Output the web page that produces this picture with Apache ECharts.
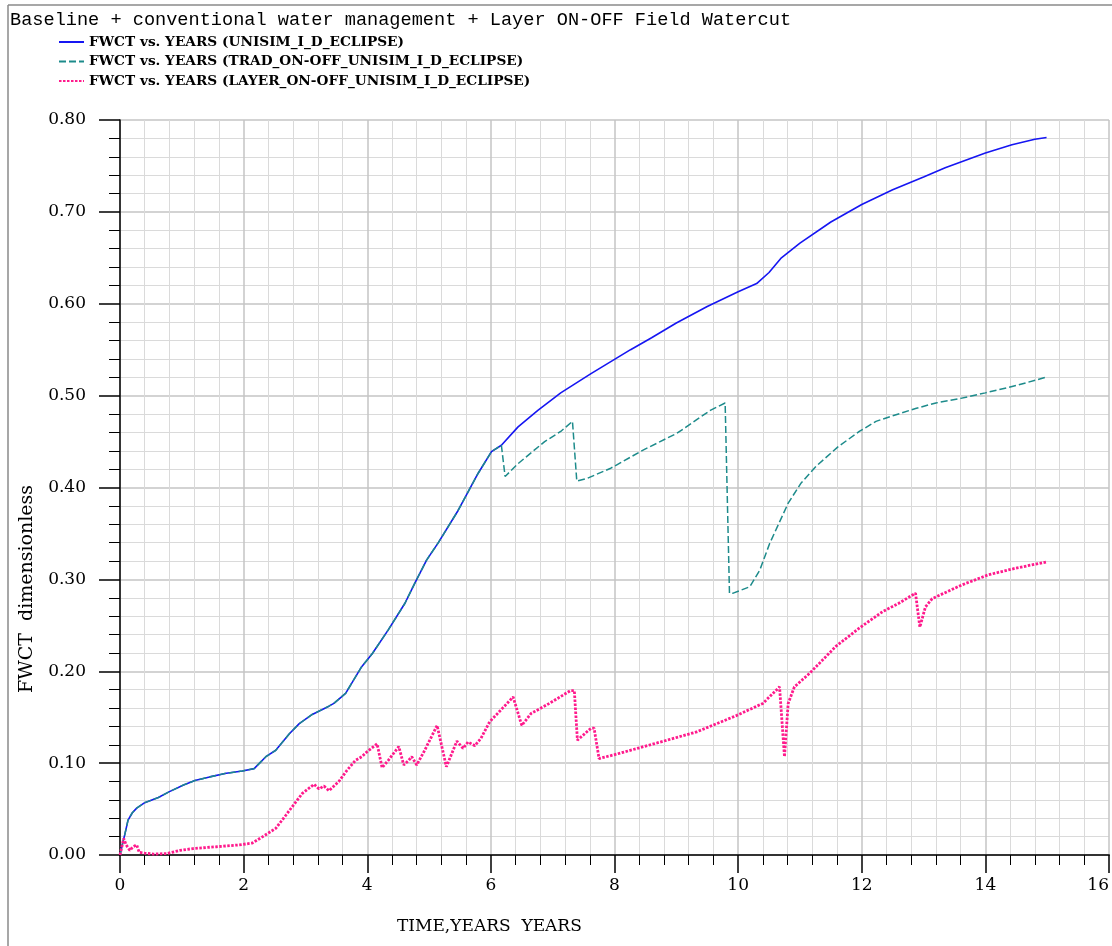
<!DOCTYPE html>
<html>
<head>
<meta charset="utf-8">
<title>Field Watercut</title>
<script src="https://cdn.jsdelivr.net/npm/echarts@6/dist/echarts.min.js"></script>
<style>
  html, body { margin: 0; padding: 0; background: #ffffff; }
  #chart { width: 1112px; height: 946px; }
</style>
</head>
<body>
<div id="chart"></div>
<script>
// Field water cut (FWCT) vs. time in years for three simulation cases

const chartTitle = 'Baseline + conventional water management + Layer ON-OFF Field Watercut';
const seriesNames = [
  'FWCT vs. YEARS (UNISIM_I_D_ECLIPSE)',
  'FWCT vs. YEARS (TRAD_ON-OFF_UNISIM_I_D_ECLIPSE)',
  'FWCT vs. YEARS (LAYER_ON-OFF_UNISIM_I_D_ECLIPSE)'
];
const xAxisTitle = 'TIME,YEARS  YEARS';
const yAxisTitle = 'FWCT  dimensionless';

// Baseline case
const baseYears = [0, 0.04, 0.08, 0.13, 0.2, 0.27, 0.4, 0.62, 0.8, 1.02, 1.21, 1.45, 1.72, 1.98,
  2.17, 2.36, 2.52, 2.74, 2.9, 3.11, 3.38, 3.46, 3.65, 3.91, 4.08, 4.34, 4.61, 4.77, 4.96,
  5.15, 5.47, 5.79, 6.01, 6.17, 6.44, 6.76, 7.13, 7.62, 7.94, 8.26, 8.6, 9.0, 9.5, 10.0,
  10.3, 10.5, 10.7, 11.0, 11.5, 12.0, 12.5, 13.0, 13.35, 14.0, 14.43, 14.8, 14.99];
const baseFwct = [0, 0.012, 0.023, 0.038, 0.046, 0.051, 0.057, 0.0625, 0.069, 0.076, 0.081, 0.085, 0.089, 0.0915,
  0.094, 0.107, 0.114, 0.132, 0.143, 0.153, 0.162, 0.165, 0.176, 0.205, 0.219, 0.245, 0.274, 0.296, 0.321,
  0.340, 0.375, 0.415, 0.439, 0.446, 0.466, 0.484, 0.503, 0.524, 0.537, 0.550, 0.563, 0.579, 0.597, 0.613,
  0.622, 0.634, 0.650, 0.666, 0.689, 0.708, 0.724, 0.738, 0.748, 0.764, 0.773, 0.779, 0.781];

// Conventional on-off management (follows the baseline until the first shut-in)
const tradYears = [0, 0.04, 0.08, 0.13, 0.2, 0.27, 0.4, 0.62, 0.8, 1.02, 1.21, 1.45, 1.72, 1.98,
  2.17, 2.36, 2.52, 2.74, 2.9, 3.11, 3.38, 3.46, 3.65, 3.91, 4.08, 4.34, 4.61, 4.77, 4.96,
  5.15, 5.47, 5.79, 6.01, 6.17, 6.23, 6.44, 6.87, 7.13, 7.32, 7.39, 7.56, 7.94, 8.47, 9.01,
  9.55, 9.79, 9.86, 9.92, 10.19, 10.35, 10.51, 10.81, 11.02, 11.26, 11.61, 11.96, 12.23,
  12.5, 12.87, 13.2, 13.6, 14.0, 14.5, 14.98];
const tradFwct = [0, 0.012, 0.023, 0.038, 0.046, 0.051, 0.057, 0.0625, 0.069, 0.076, 0.081, 0.085, 0.089, 0.0915,
  0.094, 0.107, 0.114, 0.132, 0.143, 0.153, 0.162, 0.165, 0.176, 0.205, 0.219, 0.245, 0.274, 0.296, 0.321,
  0.340, 0.375, 0.415, 0.439, 0.446, 0.412, 0.426, 0.450, 0.461, 0.472, 0.407, 0.410, 0.421, 0.441, 0.459,
  0.484, 0.492, 0.285, 0.285, 0.292, 0.310, 0.339, 0.383, 0.405, 0.423, 0.444, 0.461, 0.472,
  0.478, 0.486, 0.492, 0.497, 0.503, 0.511, 0.520];

// Layer on-off management
const layerYears = [0, 0.04, 0.06, 0.10, 0.16, 0.21, 0.27, 0.31, 0.40, 0.54, 0.75, 0.97, 1.18, 1.56,
  1.93, 2.14, 2.31, 2.52, 2.68, 2.87, 2.95, 3.14, 3.22, 3.30, 3.38, 3.54, 3.67, 3.81, 3.91,
  3.99, 4.16, 4.24, 4.34, 4.51, 4.59, 4.67, 4.72, 4.80, 4.93, 5.13, 5.28, 5.45, 5.55, 5.63,
  5.74, 5.84, 5.98, 6.15, 6.36, 6.50, 6.65, 6.92, 7.29, 7.35, 7.40, 7.62, 7.67, 7.75, 7.99,
  8.69, 9.33, 9.98, 10.40, 10.67, 10.75, 10.81, 10.91, 11.16, 11.58, 11.96, 12.34, 12.60,
  12.87, 12.94, 13.03, 13.14, 13.62, 14.05, 14.48, 14.99];
const layerFwct = [0, 0.012, 0.018, 0.011, 0.005, 0.009, 0.011, 0.003, 0.002, 0.001, 0.0015, 0.005, 0.007, 0.009,
  0.011, 0.013, 0.020, 0.029, 0.043, 0.060, 0.067, 0.077, 0.072, 0.075, 0.070, 0.080, 0.092, 0.103, 0.107,
  0.112, 0.121, 0.095, 0.103, 0.118, 0.098, 0.103, 0.107, 0.098, 0.114, 0.141, 0.096, 0.124, 0.116, 0.123,
  0.119, 0.127, 0.145, 0.157, 0.172, 0.141, 0.154, 0.164, 0.179, 0.179, 0.125, 0.138, 0.138, 0.105, 0.109,
  0.122, 0.134, 0.152, 0.165, 0.183, 0.107, 0.165, 0.183, 0.198, 0.227, 0.247, 0.265, 0.274,
  0.285, 0.248, 0.270, 0.279, 0.294, 0.305, 0.312, 0.319];

const yTickLabels = ['0.00', '0.10', '0.20', '0.30', '0.40', '0.50', '0.60', '0.70', '0.80'];
const xTickLabels = ['0', '2', '4', '6', '8', '10', '12', '14', '16'];

const zipPairs = (xs, ys) => xs.map((x, i) => [x, ys[i]]);

const serifFont = '"DejaVu Serif", "Liberation Serif", serif';
const chart = echarts.init(document.getElementById('chart'), null, { renderer: 'canvas' });

chart.setOption({
  animation: false,
  backgroundColor: '#ffffff',
  title: {
    text: chartTitle,
    left: 5,
    top: 6,
    textStyle: { fontFamily: '"Liberation Mono", "DejaVu Sans Mono", monospace', fontSize: 18.6, fontWeight: 'normal', color: '#000000' }
  },
  legend: {
    orient: 'vertical',
    left: 58,
    top: 35,
    padding: 0,
    itemWidth: 25,
    itemHeight: 14,
    itemGap: 5.5,
    data: seriesNames,
    itemStyle: { opacity: 0 },
    textStyle: { fontFamily: serifFont, fontSize: 13.7, fontWeight: 'bold', color: '#000000' }
  },
  grid: { left: 120, right: -2.4, top: 120, bottom: 91, containLabel: false },
  xAxis: {
    type: 'value',
    min: 0,
    max: 16,
    interval: 2,
    axisLine: { show: true, lineStyle: { color: '#333333', width: 2 } },
    axisTick: { show: true, inside: false, length: 18, lineStyle: { color: '#000000', width: 1.5 } },
    minorTick: { show: true, splitNumber: 5, length: 10, lineStyle: { color: '#000000', width: 1 } },
    splitLine: { show: true, lineStyle: { color: '#c4c4c4', width: 1.5 } },
    minorSplitLine: { show: true, lineStyle: { color: '#dadada', width: 1 } },
    axisLabel: {
      margin: 22,
      fontFamily: serifFont,
      fontSize: 17,
      color: '#000000',
      alignMaxLabel: 'right',
      formatter: (v) => xTickLabels[Math.round(v / 2)]
    }
  },
  yAxis: {
    type: 'value',
    min: 0,
    max: 0.8,
    interval: 0.1,
    axisLine: { show: true, lineStyle: { color: '#000000', width: 1.5 } },
    axisTick: { show: true, inside: false, length: 21, lineStyle: { color: '#000000', width: 1.5 } },
    minorTick: { show: true, splitNumber: 5, length: 11, lineStyle: { color: '#000000', width: 1 } },
    splitLine: { show: true, lineStyle: { color: '#c4c4c4', width: 1.5 } },
    minorSplitLine: { show: true, lineStyle: { color: '#dadada', width: 1 } },
    axisLabel: {
      margin: 34,
      fontFamily: serifFont,
      fontSize: 17,
      color: '#000000',
      formatter: (v) => yTickLabels[Math.round(v * 10)]
    }
  },
  graphic: [
    // outer frame on the left and top edges
    { type: 'line', silent: true, shape: { x1: 8, y1: 5, x2: 8, y2: 946 },
      style: { stroke: '#8a8a8a', lineWidth: 1.5 } },
    { type: 'line', silent: true, shape: { x1: 8, y1: 5, x2: 1112, y2: 5 },
      style: { stroke: '#8a8a8a', lineWidth: 1.5 } },
    { type: 'text', left: 397, top: 918,
      style: { text: xAxisTitle, font: '17px ' + serifFont, fill: '#000000' } },
    { type: 'text', x: 18, y: 693, rotation: Math.PI / 2,
      style: { text: yAxisTitle, font: '19px ' + serifFont, fill: '#000000', align: 'left', verticalAlign: 'top' } }
  ],
  series: [
    {
      name: seriesNames[0],
      type: 'line',
      data: zipPairs(baseYears, baseFwct),
      showSymbol: false,
      symbol: 'none',
      z: 2,
      lineStyle: { color: '#1616f2', width: 1.6, type: 'solid' },
      itemStyle: { color: '#1616f2' }
    },
    {
      name: seriesNames[1],
      type: 'line',
      data: zipPairs(tradYears, tradFwct),
      showSymbol: false,
      symbol: 'none',
      z: 3,
      lineStyle: { color: '#1d8b8b', width: 1.5, type: [7, 3] },
      itemStyle: { color: '#1d8b8b' }
    },
    {
      name: seriesNames[2],
      type: 'line',
      data: zipPairs(layerYears, layerFwct),
      showSymbol: false,
      symbol: 'none',
      z: 4,
      lineStyle: { color: '#ff1a8c', width: 2.8, type: [2.5, 1.5] },
      itemStyle: { color: '#ff1a8c' }
    }
  ]
});
</script>
</body>
</html>
